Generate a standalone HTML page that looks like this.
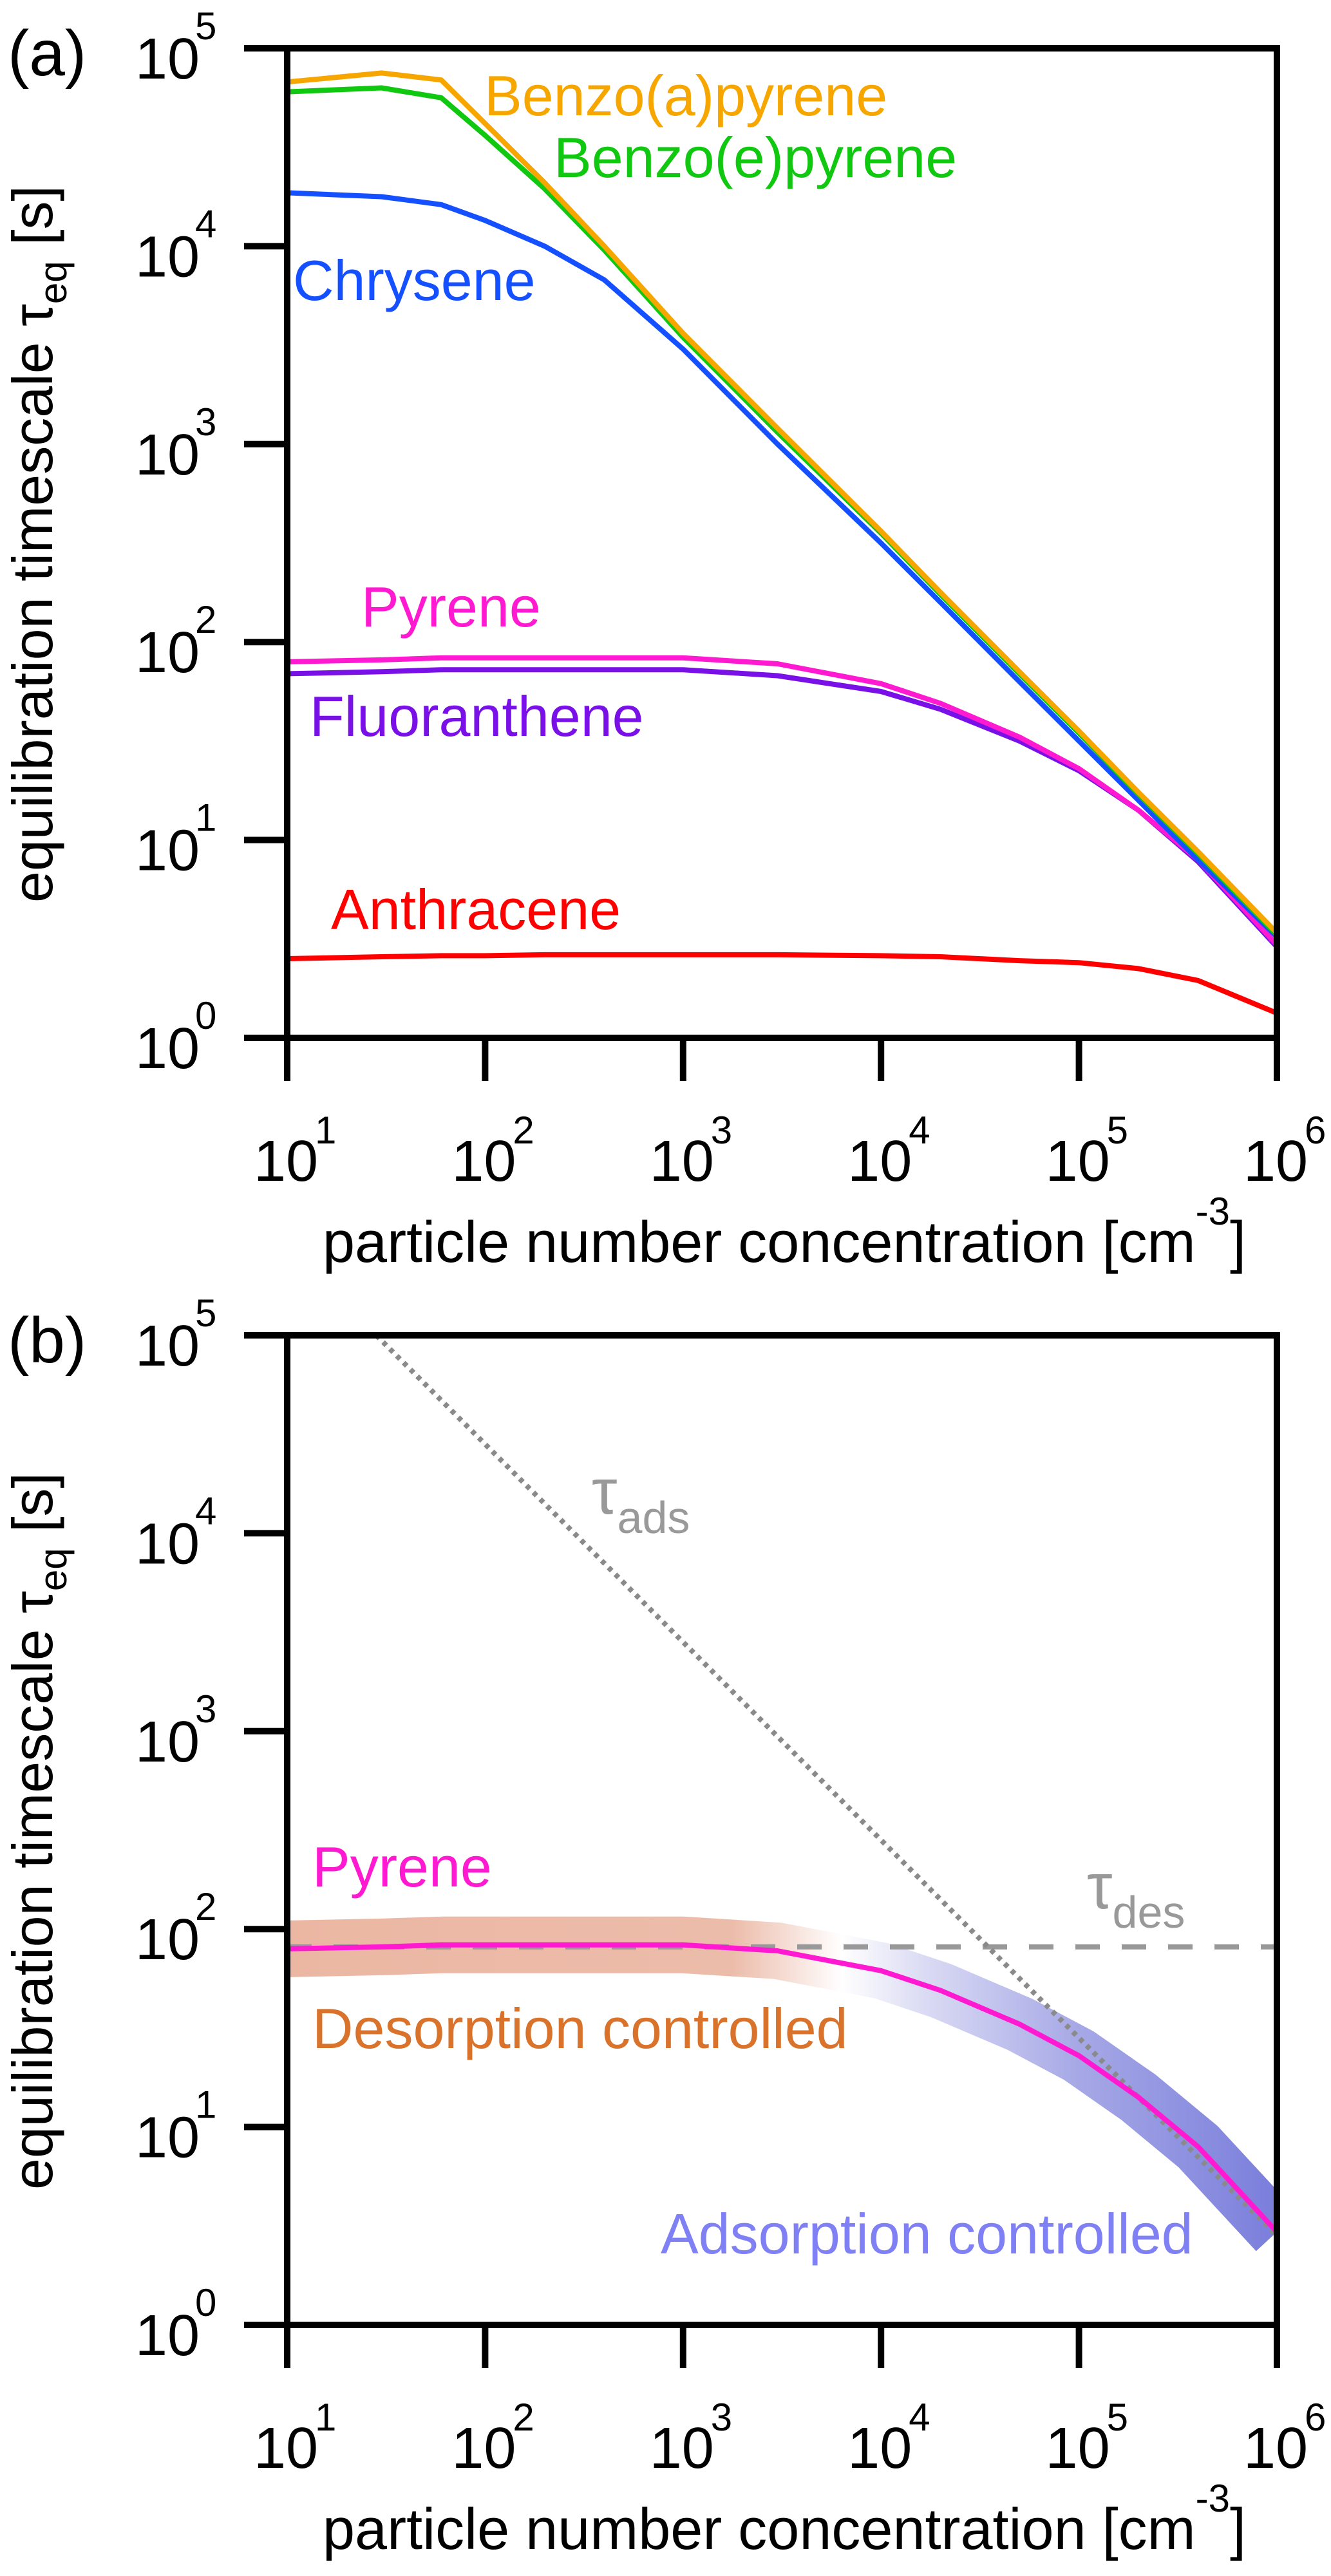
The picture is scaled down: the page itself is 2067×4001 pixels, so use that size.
<!DOCTYPE html>
<html><head><meta charset="utf-8"><style>
html,body{margin:0;padding:0;background:#fff}
svg{display:block;font-family:"Liberation Sans",Arial,sans-serif}
</style></head><body>
<svg id="fig" width="2067" height="4001" viewBox="0 0 2067 4001" xmlns="http://www.w3.org/2000/svg">
<defs>
<linearGradient id="bandGrad" gradientUnits="userSpaceOnUse" x1="446" y1="0" x2="1983" y2="0">
<stop offset="0" stop-color="#ebb7a3"/>
<stop offset="0.45" stop-color="#ecbcaa"/>
<stop offset="0.56" stop-color="#ffffff"/>
<stop offset="0.64" stop-color="#dcdcf4"/>
<stop offset="0.8" stop-color="#a6a8e6"/>
<stop offset="1" stop-color="#7a7edb"/>
</linearGradient>
<clipPath id="clipB"><rect x="446" y="2074" width="1537" height="1538"/></clipPath>
</defs>
<g id="panelA"></g>
<g id="panelB"></g>
</svg>
<script>
// Concentrations (cm^-3) and log10 timescales (s)
const conc = [10, 30, 60, 100, 200, 400, 1000, 3000, 1e4, 2e4, 5e4, 1e5, 2e5, 4e5, 1e6];
const bapLog = [4.83, 4.875, 4.84, 4.62, 4.32, 4.0, 3.56, 3.08, 2.56, 2.25, 1.85, 1.55, 1.24, 0.94, 0.53];
const bepLog = [4.78, 4.80, 4.75, 4.56, 4.29, 3.98, 3.54, 3.06, 2.55, 2.24, 1.84, 1.54, 1.23, 0.93, 0.52];
const chrLog = [4.27, 4.25, 4.21, 4.13, 4.0, 3.83, 3.48, 3.0, 2.5, 2.2, 1.8, 1.5, 1.2, 0.9, 0.51];
const pyrLog = [1.90, 1.91, 1.92, 1.92, 1.92, 1.92, 1.92, 1.89, 1.79, 1.69, 1.52, 1.36, 1.15, 0.90, 0.47];
const fluLog = [1.84, 1.85, 1.86, 1.86, 1.86, 1.86, 1.86, 1.83, 1.75, 1.66, 1.50, 1.35, 1.15, 0.89, 0.46];
const antLog = [0.40, 0.41, 0.415, 0.415, 0.42, 0.42, 0.42, 0.42, 0.415, 0.41, 0.39, 0.38, 0.35, 0.29, 0.125];
const tauDesLog = 1.91;
const tauAdsStartLogX = 1.45;
const tauAdsStartLogY = 5;
const xTickExp = [1, 2, 3, 4, 5, 6];
const yTickExp = [0, 1, 2, 3, 4, 5];

const NS = "http://www.w3.org/2000/svg";
const L = 446, R = 1983, DX = (R - L) / 5, DY = 307.4;
function X(lx) { return L + (lx - 1) * DX; }
function Y(ly, top) { return top + (5 - ly) * DY; }
function mk(tag, attrs, parent) {
  const e = document.createElementNS(NS, tag);
  for (const k in attrs) e.setAttribute(k, attrs[k]);
  parent.appendChild(e); return e;
}
function pts(vals, top) {
  return conc.map((c, i) => X(Math.log10(c)).toFixed(1) + "," + Y(vals[i], top).toFixed(1)).join(" ");
}
function text(parent, x, y, str, size, color, name) {
  const t = mk("text", {x: x, y: y, "font-size": size, fill: color}, parent);
  t.textContent = str;
  
  
  return t;
}
function axes(g, top, label) {
  const bot = top + 5 * DY;
  const frame = mk("rect", {x: L, y: top, width: R - L, height: bot - top, fill: "none", stroke: "#000", "stroke-width": 10}, g);
  
  
  xTickExp.forEach(e => {
    const x = X(e);
    const tk = mk("line", {x1: x, y1: bot, x2: x, y2: bot + 67, stroke: "#000", "stroke-width": 10}, g);
    
    
    const t = text(g, x - 2, bot + 222, "10", 90, "#000", "x-tick-label");
    t.setAttribute("text-anchor", "middle");
    text(g, x + 43, bot + 164, String(e), 60, "#000", "x-tick-exponent");
  });
  yTickExp.forEach(e => {
    const y = Y(e, top);
    const tk = mk("line", {x1: L - 67, y1: y, x2: L, y2: y, stroke: "#000", "stroke-width": 10}, g);
    
    
    const t = text(g, 310, y + 47, "10", 90, "#000", "y-tick-label");
    t.setAttribute("text-anchor", "end");
    text(g, 303, y - 14, String(e), 60, "#000", "y-tick-exponent");
  });
  const xt = text(g, 501, top + 1885, "particle number concentration [cm", 90, "#000", "x-axis-title");
  const ts = mk("tspan", {dy: -58, "font-size": 60}, xt); ts.textContent = "-3";
  const ts2 = mk("tspan", {dy: 58, "font-size": 90}, xt); ts2.textContent = "]";
  const yt = mk("text", {transform: "translate(81," + (top + 770) + ") rotate(-90)", "text-anchor": "middle", "font-size": 88, fill: "#000"}, g);
  
  
  const a = mk("tspan", {}, yt); a.textContent = "equilibration timescale τ";
  const b = mk("tspan", {dy: 22, "font-size": 60}, yt); b.textContent = "eq";
  const c = mk("tspan", {dy: -22}, yt); c.textContent = " [s]";
  text(g, 12, top + 42, label, 100, "#000", "panel-label");
}
function series(g, vals, top, color, name, w) {
  const p = mk("polyline", {points: pts(vals, top), fill: "none", stroke: color, "stroke-width": w || 8, "stroke-linejoin": "round"}, g);
  
  
  return p;
}

// Panel A
const gA = document.getElementById("panelA");
const TA = 75;
series(gA, antLog, TA, "#ff0000", "anthracene-line");
series(gA, fluLog, TA, "#7a10e8", "fluoranthene-line");
series(gA, pyrLog, TA, "#ff1ad2", "pyrene-line");
series(gA, chrLog, TA, "#1450ff", "chrysene-line");
series(gA, bepLog, TA, "#10c810", "benzo-e-pyrene-line");
series(gA, bapLog, TA, "#f7a600", "benzo-a-pyrene-line");
axes(gA, TA, "(a)");
text(gA, 752, 179, "Benzo(a)pyrene", 88, "#f7a600", "benzo-a-pyrene-label");
text(gA, 860, 275, "Benzo(e)pyrene", 88, "#10c810", "benzo-e-pyrene-label");
text(gA, 455, 466, "Chrysene", 88, "#1450ff", "chrysene-label");
text(gA, 561, 973, "Pyrene", 88, "#ff1ad2", "pyrene-label");
text(gA, 481, 1143, "Fluoranthene", 88, "#7a10e8", "fluoranthene-label");
text(gA, 514, 1443, "Anthracene", 88, "#ff0000", "anthracene-label");

// Panel B
const gB = document.getElementById("panelB");
const TB = 2074;
const clip = mk("g", {"clip-path": "url(#clipB)"}, gB);


series(clip, pyrLog, TB, "url(#bandGrad)", "regime-band", 88);
const des = mk("line", {x1: L, y1: Y(tauDesLog, TB), x2: R, y2: Y(tauDesLog, TB), stroke: "#999", "stroke-width": 8, "stroke-dasharray": "38 34"}, clip);


const adsEndLogX = 6;
const adsEndLogY = tauAdsStartLogY - (adsEndLogX - tauAdsStartLogX);
const ads = mk("line", {x1: X(tauAdsStartLogX), y1: Y(tauAdsStartLogY, TB), x2: X(adsEndLogX), y2: Y(adsEndLogY, TB), stroke: "#8a8a8a", "stroke-width": 8, "stroke-dasharray": "7 8"}, clip);


series(clip, pyrLog, TB, "#ff1ad2", "pyrene-line-b");
axes(gB, TB, "(b)");
text(gB, 485, 2930, "Pyrene", 88, "#ff1ad2", "pyrene-label-b");
text(gB, 485, 3181, "Desorption controlled", 88, "#d9722a", "desorption-label");
text(gB, 1026, 3500, "Adsorption controlled", 88, "#8080f5", "adsorption-label");
const ta = text(gB, 919, 2351, "τ", 100, "#999", "tau-ads-label");
const tas = mk("tspan", {dy: 30, "font-size": 70}, ta); tas.textContent = "ads";
const td = text(gB, 1688, 2964, "τ", 100, "#999", "tau-des-label");
const tds = mk("tspan", {dy: 30, "font-size": 70}, td); tds.textContent = "des";
</script>
</body></html>
